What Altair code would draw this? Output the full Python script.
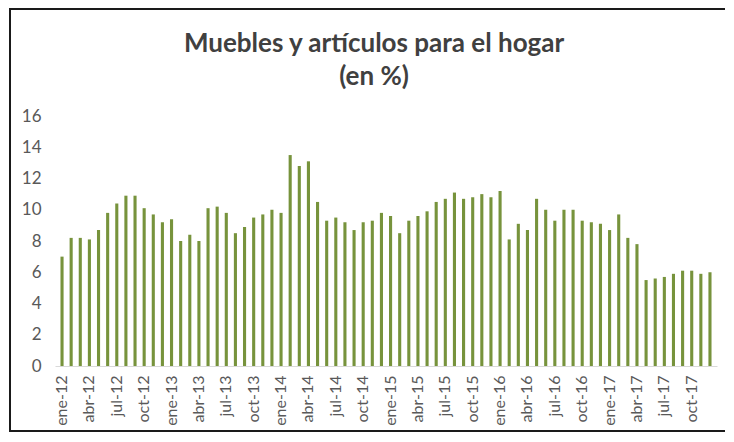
import altair as alt
import pandas as pd

# ---- data ----
month_names = ["ene", "feb", "mar", "abr", "may", "jun", "jul", "ago", "sep", "oct", "nov", "dic"]
years = ["12", "13", "14", "15", "16", "17"]
values_2012 = [7.0, 8.2, 8.2, 8.1, 8.7, 9.8, 10.4, 10.9, 10.9, 10.1, 9.7, 9.2]
values_2013 = [9.4, 8.0, 8.4, 8.0, 10.1, 10.2, 9.8, 8.5, 8.9, 9.5, 9.7, 10.0]
values_2014 = [9.8, 13.5, 12.8, 13.1, 10.5, 9.3, 9.5, 9.2, 8.7, 9.2, 9.3, 9.8]
values_2015 = [9.6, 8.5, 9.3, 9.6, 9.9, 10.5, 10.7, 11.1, 10.7, 10.8, 11.0, 10.8]
values_2016 = [11.2, 8.1, 9.1, 8.7, 10.7, 10.0, 9.3, 10.0, 10.0, 9.3, 9.2, 9.1]
values_2017 = [8.7, 9.7, 8.2, 7.8, 5.5, 5.6, 5.7, 5.9, 6.1, 6.1, 5.9, 6.0]
y_ticks = [0, 2, 4, 6, 8, 10, 12, 14, 16]
title_lines = "Muebles y artículos para el hogar\n(en %)"

periods = [f"{m}-{y}" for y in years for m in month_names]
vals = values_2012 + values_2013 + values_2014 + values_2015 + values_2016 + values_2017
tick_labels = [p for i, p in enumerate(periods) if i % 3 == 0]
df = pd.DataFrame({"periodo": periods, "valor": vals})

FONT = "Lato"
W, H = 662, 250

bars = alt.Chart(df).mark_bar(color="#77933C").encode(
    x=alt.X(
        "periodo:N",
        sort=periods,
        scale=alt.Scale(paddingInner=0.66, paddingOuter=0.6),
        axis=alt.Axis(
            values=tick_labels,
            labelAngle=-90,
            ticks=False,
            domainColor="#d9d9d9",
            domainWidth=1,
            labelFont=FONT,
            labelFontSize=16,
            labelColor="#595959",
            labelPadding=9,
            title=None,
        ),
    ),
    y=alt.Y(
        "valor:Q",
        scale=alt.Scale(domain=[0, 16], nice=False),
        axis=alt.Axis(
            values=y_ticks,
            domain=False,
            ticks=False,
            grid=False,
            labelFont=FONT,
            labelFontSize=17,
            labelColor="#595959",
            labelPadding=14,
            title=None,
        ),
    ),
)

one = pd.DataFrame({"t": [title_lines]})

title = alt.Chart(one).mark_text(
    font=FONT,
    fontSize=26,
    fontWeight="bold",
    color="#404040",
    align="center",
    baseline="alphabetic",
    lineBreak="\n",
    lineHeight=33,
).encode(
    text="t:N",
    x=alt.value(319),
    y=alt.value(-64),
)

border_color = "#1a1a1a"
left_border = alt.Chart(one).mark_rule(color=border_color, strokeWidth=2).encode(
    x=alt.value(-45), y=alt.value(-107), y2=alt.value(315)
)
top_border = alt.Chart(one).mark_rule(color=border_color, strokeWidth=2).encode(
    x=alt.value(-46), x2=alt.value(670), y=alt.value(-107)
)
bottom_border = alt.Chart(one).mark_rule(color=border_color, strokeWidth=2).encode(
    x=alt.value(-46), x2=alt.value(670), y=alt.value(315)
)

chart = alt.layer(bars, title, left_border, top_border, bottom_border).properties(
    width=W, height=H, padding=0, background="white"
).configure_view(stroke=None)

chart.save("out.html", embed_options={"renderer": "svg", "actions": False})
